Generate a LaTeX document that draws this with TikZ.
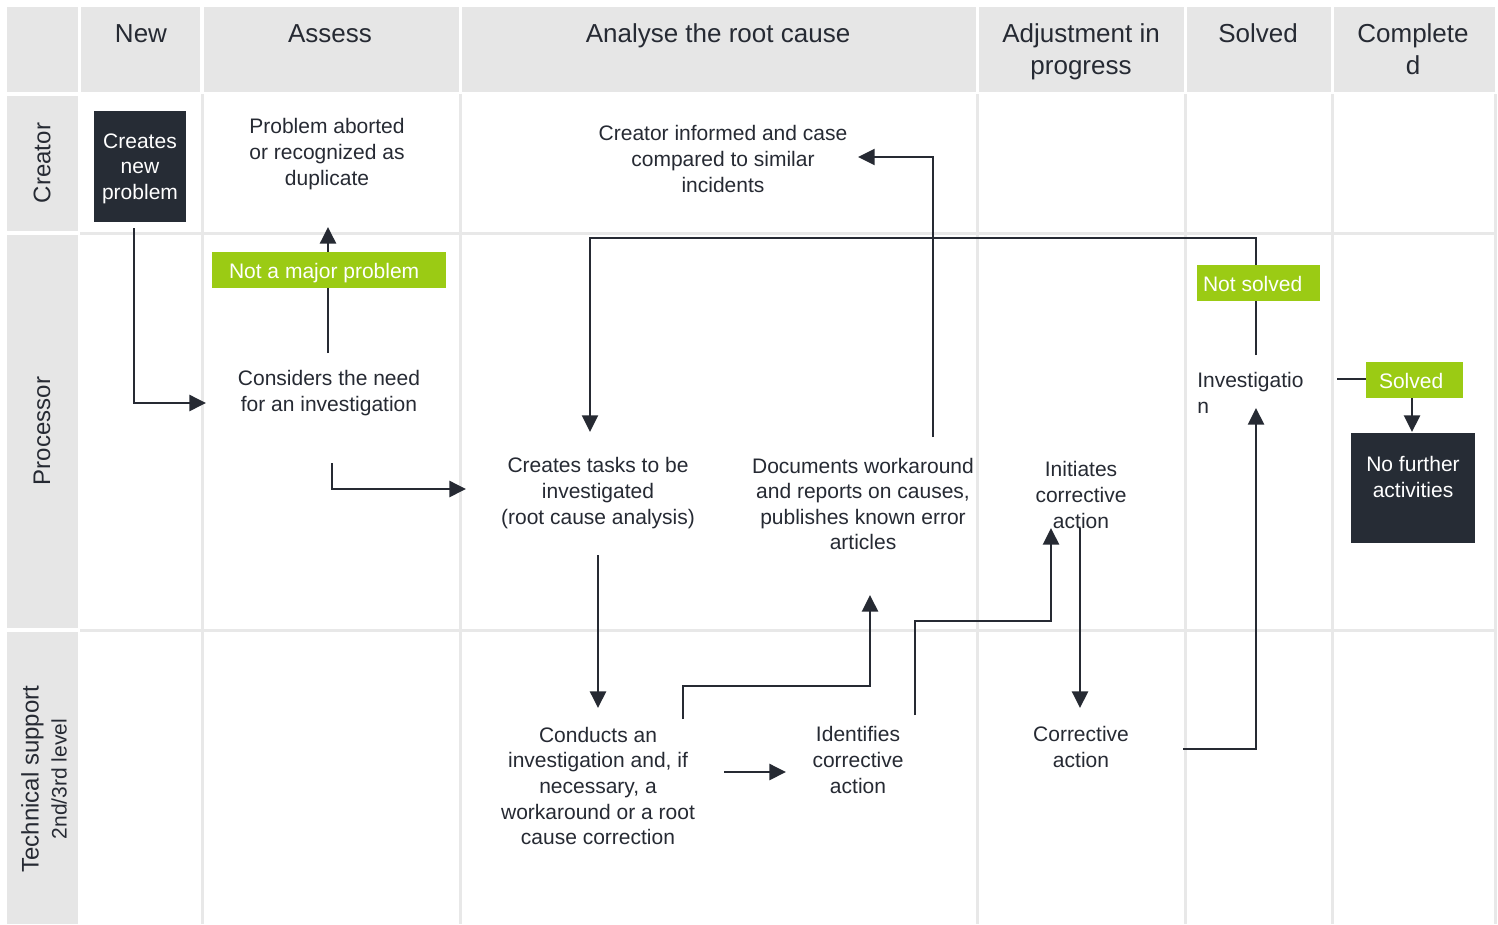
\documentclass[tikz,border=0pt]{standalone}
\usepackage{fontspec}
\setmainfont{Liberation Sans}
\usetikzlibrary{arrows.meta}
\definecolor{hdrgray}{HTML}{E6E6E6}
\definecolor{gridgray}{HTML}{E8E8E8}
\definecolor{ink}{HTML}{262A33}
\definecolor{lime}{HTML}{9BCB14}
\definecolor{boxdark}{HTML}{262C35}
\begin{document}
\begin{tikzpicture}[x=0.75pt,y=-0.75pt,
  txt/.style={font=\fontsize{15.75}{19.2}\selectfont, text=ink, align=center, inner sep=0pt},
  hdrtxt/.style={font=\fontsize{19.5}{24}\selectfont, text=ink, align=center, inner sep=0pt},
  lanetxt/.style={font=\fontsize{18}{21}\selectfont, text=ink, align=center, rotate=90, inner sep=0pt},
  hdrcell/.style={fill=hdrgray, draw=none},
  gridline/.style={draw=gridgray, line width=2.25pt},
  darkbox/.style={fill=boxdark, draw=none, inner sep=0pt},
  whitetxt/.style={font=\fontsize{15.75}{19.2}\selectfont, text=white, align=center, inner sep=0pt},
  greenlbl/.style={fill=lime, text=white, font=\fontsize{15.75}{19.2}\selectfont, inner sep=0pt,
    minimum height=27pt, text height=13pt, text depth=1pt},
  conn/.style={draw=ink, line width=1.9pt},
  arr/.style={conn, -{Triangle[length=12.5pt,width=12pt]}},
]
\useasboundingbox (0,0) rectangle (1498,924);
\fill[white] (0,0) rectangle (1498,924);

% body grid lines
\foreach \x in {202,460,977,1185,1332,1495}
  \draw[gridline] (\x,94) -- (\x,924);
\foreach \y in {233,630}
  \draw[gridline] (80,\y) -- (1495,\y);

% header cells
\fill[hdrcell] (7,7) rectangle (78,92);
\fill[hdrcell] (81,7) rectangle (200,92);
\fill[hdrcell] (204,7) rectangle (459,92);
\fill[hdrcell] (462,7) rectangle (976,92);
\fill[hdrcell] (979,7) rectangle (1184,92);
\fill[hdrcell] (1187,7) rectangle (1331,92);
\fill[hdrcell] (1334,7) rectangle (1495,92);
% lane cells
\fill[hdrcell] (7,96) rectangle (78,231);
\fill[hdrcell] (7,235) rectangle (78,628);
\fill[hdrcell] (7,632) rectangle (78,924);

% header texts
\node[hdrtxt, anchor=base] (h_new) at (141,43) {New};
\node[hdrtxt, anchor=base] (h_assess) at (330,43) {Assess};
\node[hdrtxt, anchor=base] (h_analyse) at (718,43) {Analyse the root cause};
\node[hdrtxt] (h_adjust) at (1081,52) {Adjustment in\\progress};
\node[hdrtxt, anchor=base] (h_solved) at (1258,43) {Solved};
\node[hdrtxt] (h_complete) at (1413,49) {Complete\\d};

% lane texts
\node[lanetxt] (l_creator) at (42,163) {Creator};
\node[lanetxt] (l_processor) at (42,431) {Processor};
\node[lanetxt] (l_tech) at (44,779) {Technical support\\{\fontsize{15.75}{19}\selectfont 2nd/3rd level}};

% process nodes
\node[darkbox, minimum width=69pt, minimum height=83.25pt] (n_new) at (140,166.5) {};
\node[whitetxt] (t_new) at (140,168.5) {Creates\\new\\problem};
\node[txt] (n_aborted) at (327,154) {Problem aborted\\or recognized as\\duplicate};
\node[txt] (n_informed) at (723,159) {Creator informed and case\\compared to similar\\incidents};
\node[txt] (n_consider) at (329,393) {Considers the need\\for an investigation};
\node[txt] (n_tasks) at (598,493) {Creates tasks to be\\investigated\\(root cause analysis)};
\node[txt] (n_docs) at (863,504) {Documents workaround\\and reports on causes,\\publishes known error\\articles};
\node[txt] (n_initiates) at (1081,495) {Initiates\\corrective\\action};
\node[txt, anchor=west, align=left] (n_invest) at (1197,393) {Investigatio\\n};
\node[darkbox, minimum width=93pt, minimum height=82.5pt] (n_nofurther) at (1413,488) {};
\node[whitetxt] (t_nofurther) at (1413,477) {No further\\activities};
\node[txt] (n_conducts) at (598,786) {Conducts an\\investigation and, if\\necessary, a\\workaround or a root\\cause correction};
\node[txt] (n_identifies) at (858,760) {Identifies\\corrective\\action};
\node[txt] (n_corrective) at (1081,747) {Corrective\\action};

% connector ports
\coordinate (p_new_out) at (134,228);
\coordinate (p_consider_in) at (206,403);
\coordinate (p_consider_up) at (328,353);
\coordinate (p_aborted_in) at (328,227);
\coordinate (p_consider_out) at (332,463);
\coordinate (p_tasks_in) at (466,489);
\coordinate (p_tasks_out) at (598,555);
\coordinate (p_conducts_in) at (598,708);
\coordinate (p_conducts_up) at (683,719);
\coordinate (p_docs_in) at (870,595);
\coordinate (p_conducts_out) at (724,772);
\coordinate (p_identifies_in) at (786,772);
\coordinate (p_identifies_up) at (915,715);
\coordinate (p_initiates_in) at (1051,528);
\coordinate (p_initiates_out) at (1080,528);
\coordinate (p_corrective_in) at (1080,708);
\coordinate (p_corrective_out) at (1183,749);
\coordinate (p_invest_in) at (1256,408);
\coordinate (p_invest_up) at (1256,355);
\coordinate (p_tasks_top) at (590,432);
\coordinate (p_docs_up) at (933,437);
\coordinate (p_informed_in) at (858,157);
\coordinate (p_invest_out) at (1337,379);
\coordinate (p_nofurther_in) at (1412,432);

% connectors
\draw[arr] (p_new_out) |- (p_consider_in);
\draw[arr] (p_consider_up) -- (p_aborted_in);
\draw[arr] (p_consider_out) |- (p_tasks_in);
\draw[arr] (p_tasks_out) -- (p_conducts_in);
\draw[arr] (p_conducts_up) -- (683,686) -| (p_docs_in);
\draw[arr] (p_conducts_out) -- (p_identifies_in);
\draw[arr] (p_identifies_up) -- (915,621) -| (p_initiates_in);
\draw[arr] (p_initiates_out) -- (p_corrective_in);
\draw[arr] (p_corrective_out) -| (p_invest_in);
\draw[arr, line width=1.5pt] (p_invest_up) -- (1256,238) -| (p_tasks_top);
\draw[arr, line width=1.6pt] (p_docs_up) |- (p_informed_in);

% green condition labels (over the lines)
\node[greenlbl] (g_notmajor) at (329,270) {\makebox[175.5pt][l]{\hspace{12.75pt}Not a major problem}};
\node[greenlbl] (g_notsolved) at (1258.5,283) {\makebox[92.25pt][l]{\hspace{4.5pt}Not solved}};
\node[greenlbl] (g_solved) at (1414.5,380) {\makebox[72.75pt][l]{\hspace{9.75pt}Solved}};

\draw[conn] (p_invest_out) -- (p_invest_out -| g_solved.west);
\draw[arr] (g_solved.south -| p_nofurther_in) -- (p_nofurther_in);
\end{tikzpicture}
\end{document}
